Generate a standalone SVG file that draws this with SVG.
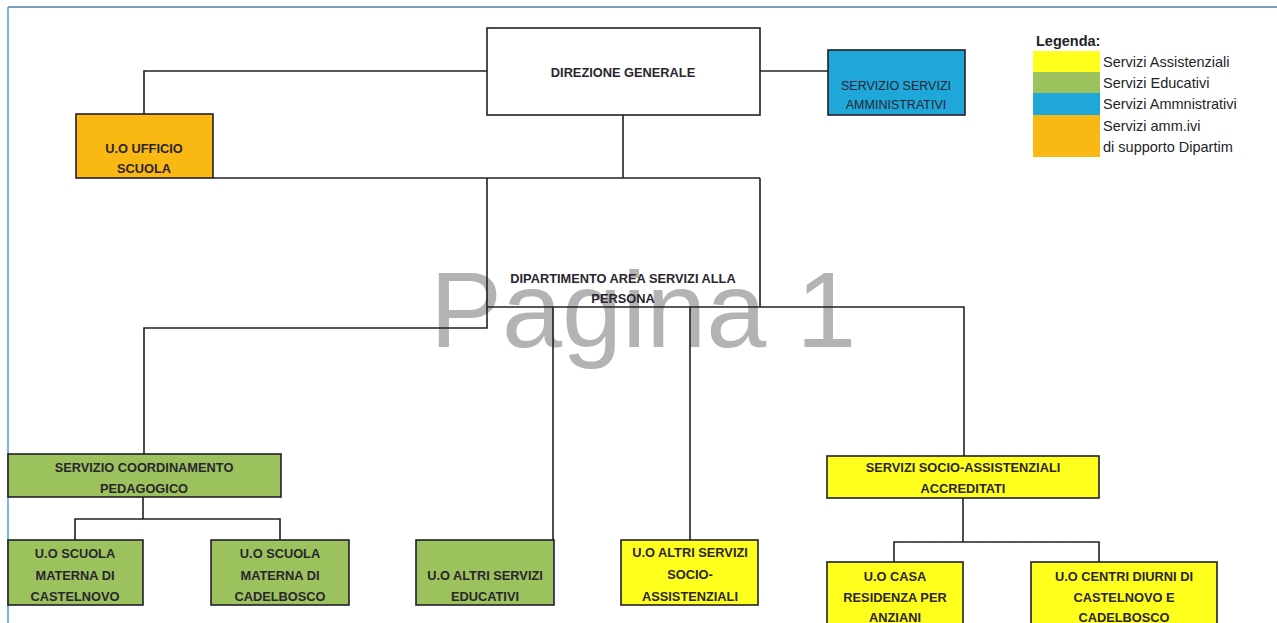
<svg xmlns="http://www.w3.org/2000/svg" width="1277" height="623" viewBox="0 0 1277 623">
<style>
  .box { stroke: #231f2a; stroke-width: 1.6; }
  .white { fill: #ffffff; }
  .orange { fill: #f9b814; }
  .green { fill: #9cc25d; }
  .blue { fill: #1ea7d8; }
  .yellow { fill: #ffff1e; }
  .t { font-family: "Liberation Sans", Arial, sans-serif; font-size: 12.8px; font-weight: bold; fill: #2a2530; text-anchor: middle; dominant-baseline: central; }
  .tn { font-weight: normal; font-size: 12.5px; }
  .leg { font-family: "Liberation Sans", Arial, sans-serif; font-size: 14.5px; fill: #231f2a; }
  .conn { fill: none; stroke: #231f2a; stroke-width: 1.6; }
  .wm { font-family: "Liberation Sans", Arial, sans-serif; font-size: 108px; fill: #a6a6a6; fill-opacity: 0.85; }
</style>
<rect x="0" y="0" width="1277" height="623" fill="#ffffff"/>
<!-- page frame -->
<g id="frame">
  <line x1="8" y1="7" x2="1277" y2="7" stroke="#4a7fae" stroke-width="1.3"/>
  <line x1="8" y1="7" x2="8" y2="623" stroke="#2f8fd6" stroke-width="1.3"/>
</g>
<!-- watermark -->
<text class="wm" x="430" y="347">Pagina 1</text>
<!-- connectors -->
<g id="connectors">
  <polyline class="conn" points="487,71 144,71 144,114"/>
  <line class="conn" x1="760" y1="71" x2="828" y2="71"/>
  <line class="conn" x1="623" y1="115" x2="623" y2="178"/>
  <line class="conn" x1="213" y1="178" x2="760" y2="178"/>
  <polyline class="conn" points="487,178 487,328 144,328 144,454"/>
  <line class="conn" x1="760" y1="178" x2="760" y2="307"/>
  <polyline class="conn" points="487,307 964,307 964,456"/>
  <line class="conn" x1="553" y1="307" x2="553" y2="540"/>
  <line class="conn" x1="690" y1="307" x2="690" y2="540"/>
  <polyline class="conn" points="143,497 143,519"/>
  <polyline class="conn" points="75,540 75,519 280,519 280,540"/>
  <line class="conn" x1="963" y1="498" x2="963" y2="542"/>
  <polyline class="conn" points="894,562 894,542 1099,542 1099,562"/>
</g>
<!-- nodes -->
<g id="direzione-generale">
  <rect class="box white" x="487" y="28" width="273" height="87"/>
  <text class="t" x="623" y="72">DIREZIONE GENERALE</text>
</g>
<g id="servizio-amministrativi">
  <rect class="box blue" x="828" y="50" width="137" height="65"/>
  <text class="t tn" x="896" y="86">SERVIZIO SERVIZI</text>
  <text class="t tn" x="896" y="105">AMMINISTRATIVI</text>
</g>
<g id="uo-ufficio-scuola">
  <rect class="box orange" x="76" y="114" width="137" height="64"/>
  <text class="t" x="144" y="148">U.O UFFICIO</text>
  <text class="t" x="144" y="168">SCUOLA</text>
</g>
<g id="dipartimento">
  <text class="t" x="623" y="278">DIPARTIMENTO AREA SERVIZI ALLA</text>
  <text class="t" x="623" y="298">PERSONA</text>
</g>
<g id="coordinamento-pedagogico">
  <rect class="box green" x="8" y="454" width="273" height="43"/>
  <text class="t" x="144" y="467">SERVIZIO COORDINAMENTO</text>
  <text class="t" x="144" y="488">PEDAGOGICO</text>
</g>
<g id="materna-castelnovo">
  <rect class="box green" x="8" y="540" width="135" height="65"/>
  <text class="t" x="75" y="553">U.O SCUOLA</text>
  <text class="t" x="75" y="575">MATERNA DI</text>
  <text class="t" x="75" y="596">CASTELNOVO</text>
</g>
<g id="materna-cadelbosco">
  <rect class="box green" x="211" y="540" width="138" height="65"/>
  <text class="t" x="280" y="553">U.O SCUOLA</text>
  <text class="t" x="280" y="575">MATERNA DI</text>
  <text class="t" x="280" y="596">CADELBOSCO</text>
</g>
<g id="altri-educativi">
  <rect class="box green" x="416" y="540" width="138" height="65"/>
  <text class="t" x="485" y="575">U.O ALTRI SERVIZI</text>
  <text class="t" x="485" y="596">EDUCATIVI</text>
</g>
<g id="altri-socio-assistenziali">
  <rect class="box yellow" x="621" y="540" width="137" height="65"/>
  <text class="t" x="690" y="552">U.O ALTRI SERVIZI</text>
  <text class="t" x="690" y="574">SOCIO-</text>
  <text class="t" x="690" y="596">ASSISTENZIALI</text>
</g>
<g id="socio-assistenziali-accreditati">
  <rect class="box yellow" x="827" y="456" width="272" height="42"/>
  <text class="t" x="963" y="467">SERVIZI SOCIO-ASSISTENZIALI</text>
  <text class="t" x="963" y="488">ACCREDITATI</text>
</g>
<g id="casa-residenza">
  <rect class="box yellow" x="827" y="562" width="136" height="70"/>
  <text class="t" x="895" y="576">U.O CASA</text>
  <text class="t" x="895" y="597">RESIDENZA PER</text>
  <text class="t" x="895" y="617">ANZIANI</text>
</g>
<g id="centri-diurni">
  <rect class="box yellow" x="1031" y="562" width="186" height="70"/>
  <text class="t" x="1124" y="576">U.O CENTRI DIURNI DI</text>
  <text class="t" x="1124" y="597">CASTELNOVO E</text>
  <text class="t" x="1124" y="617">CADELBOSCO</text>
</g>
<!-- legend -->
<g id="legend">
  <text class="leg" x="1036" y="46" font-weight="bold" font-size="13px">Legenda:</text>
  <rect x="1033" y="51" width="67" height="21" fill="#ffff1e"/>
  <rect x="1033" y="72" width="67" height="21" fill="#9cc25d"/>
  <rect x="1033" y="93" width="67" height="22" fill="#1ea7d8"/>
  <rect x="1033" y="115" width="67" height="42" fill="#f9b814"/>
  <text class="leg" x="1103" y="67">Servizi Assistenziali</text>
  <text class="leg" x="1103" y="88">Servizi Educativi</text>
  <text class="leg" x="1103" y="109">Servizi Ammnistrativi</text>
  <text class="leg" x="1103" y="131">Servizi amm.ivi</text>
  <text class="leg" x="1103" y="152">di supporto Dipartim</text>
</g>
</svg>
